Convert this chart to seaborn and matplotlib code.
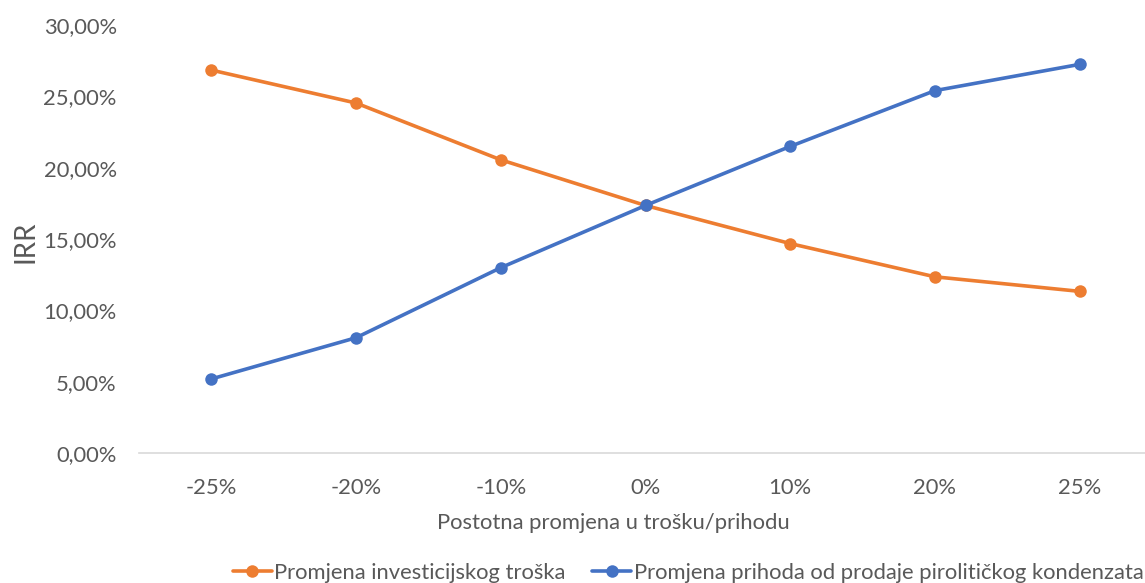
import matplotlib
matplotlib.use("Agg")
import matplotlib.pyplot as plt
import seaborn as sns
import pandas as pd
from matplotlib.ticker import FuncFormatter

categories = ["-25%", "-20%", "-10%", "0%", "10%", "20%", "25%"]
investicijski = [26.84, 24.53, 20.55, 17.35, 14.68, 12.35, 11.33]
prihod = [5.19, 8.08, 12.99, 17.35, 21.49, 25.40, 27.24]
series_names = ["Promjena investicijskog troška",
                "Promjena prihoda od prodaje pirolitičkog kondenzata"]

df = pd.concat([
    pd.DataFrame({"x": categories, "y": investicijski, "s": series_names[0]}),
    pd.DataFrame({"x": categories, "y": prihod, "s": series_names[1]}),
])

sns.set_theme(style="white")
plt.rcParams['font.family'] = ['Lato', 'DejaVu Sans']

fig = plt.figure(figsize=(11.45, 5.83), dpi=100)
ax = fig.add_axes([139/1145, (583-453)/583, (1152-139)/1145, (453-25)/583])

palette = {series_names[0]: "#ED7D31", series_names[1]: "#4472C4"}
sns.lineplot(data=df, x="x", y="y", hue="s", palette=palette, marker="o",
             markersize=9, markeredgewidth=0, linewidth=2.6, sort=False, ax=ax,
             legend=True)

ax.set_xlim(-0.5, 6.5)
ax.set_ylim(0, 30)
ax.set_yticks([0, 5, 10, 15, 20, 25, 30])
ax.yaxis.set_major_formatter(FuncFormatter(lambda v, p: f"{v:.2f}%".replace(".", ",")))
for s in ["top", "right", "left"]:
    ax.spines[s].set_visible(False)
ax.spines["bottom"].set_color("#D9D9D9")
ax.spines["bottom"].set_linewidth(1.2)
ax.tick_params(axis="both", length=0, labelsize=15.8, labelcolor="#595959")
ax.tick_params(axis="y", pad=16)
ax.tick_params(axis="x", pad=18)
ax.set_xlabel("Postotna promjena u trošku/prihodu", fontsize=15.8, color="#595959")
ax.set_ylabel("IRR", fontsize=20, color="#595959")
ax.xaxis.set_label_coords((613-139)/(1152-139), -(523-453)/428)
ax.yaxis.set_label_coords(-(139-25)/(1152-139), (453-242)/428)
ax.xaxis.label.set_va("center")
ax.yaxis.label.set_va("center")
ax.yaxis.label.set_ha("center")

handles, labels = ax.get_legend_handles_labels()
ax.legend(handles, labels, loc="center", bbox_to_anchor=((688-139)/(1152-139), -(573-453)/428),
          ncol=2, frameon=False, fontsize=15.8, labelcolor="#595959",
          handlelength=1.8, handletextpad=0.1, columnspacing=1.2, borderaxespad=0)

fig.savefig("out.png", dpi=100)
